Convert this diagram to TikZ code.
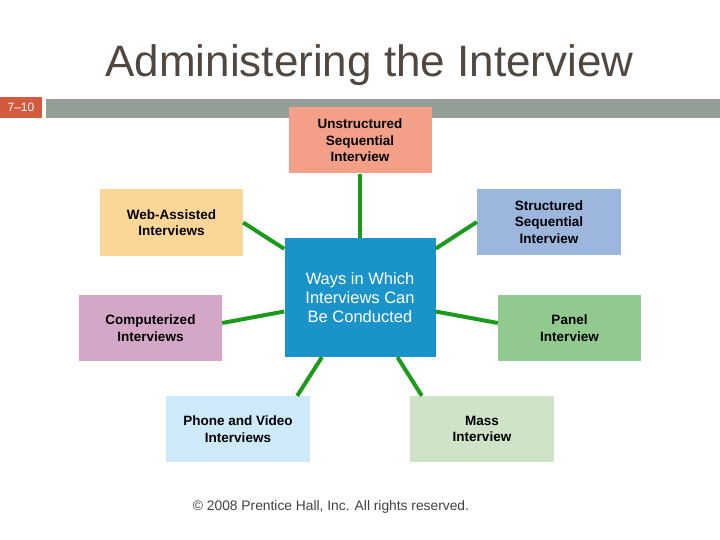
\documentclass[tikz,border=0pt]{standalone}
\usepackage{fontspec}
\setmainfont{Liberation Sans}
\usetikzlibrary{positioning,calc}

\definecolor{titlegray}{RGB}{80,72,64}
\definecolor{bargray}{RGB}{146,158,150}
\definecolor{tagred}{RGB}{211,90,60}
\definecolor{linkgreen}{RGB}{28,154,28}
\definecolor{unstrcol}{RGB}{244,160,136}
\definecolor{structcol}{RGB}{157,182,222}
\definecolor{webcol}{RGB}{250,215,151}
\definecolor{wayscol}{RGB}{26,147,200}
\definecolor{compcol}{RGB}{212,167,199}
\definecolor{panelcol}{RGB}{145,201,142}
\definecolor{phonecol}{RGB}{205,233,250}
\definecolor{masscol}{RGB}{206,227,199}

\begin{document}
\begin{tikzpicture}[x=1pt, y=-1pt,
        box/.style={rectangle, minimum width=143pt, minimum height=66pt, inner sep=0pt, align=center, font=\fontsize{13.5}{16.5}\selectfont\bfseries},
        link/.style={draw=linkgreen, line width=4pt}
    ]
        \useasboundingbox (0,0) rectangle (720,540);

        % Title and header bar
        \node[anchor=base, text=titlegray, font=\fontsize{44}{50}\selectfont] (title) at (369.5, 77) {Administering the Interview};
        \fill[bargray] (46,99) rectangle (720,118);
        \node[rectangle, fill=tagred, minimum width=42pt, minimum height=21pt, inner sep=0pt, text=white, font=\fontsize{12}{14}\selectfont] (tag) at (21, 107.5) {7--10};

        % Centre
        \node[rectangle, fill=wayscol, minimum width=151pt, minimum height=119pt, inner sep=0pt, align=center, text=white, font=\fontsize{16.5}{19}\selectfont] (ways) at (360, 297.5) {Ways in Which\\Interviews Can\\Be Conducted};

        % Surrounding kinds of interview
        \node[box, fill=unstrcol] (unstr) at (360, 140.5) {Unstructured\\Sequential\\Interview};
        \node[box, fill=structcol, minimum width=144pt] (struct) at (549, 222) {Structured\\Sequential\\Interview};
        \node[box, fill=webcol] (web) at (171.5, 222.5) {Web-Assisted\\Interviews};
        \node[box, fill=compcol] (comp) at (150.5, 328) {Computerized\\Interviews};
        \node[box, fill=panelcol] (panel) at (569.5, 328) {Panel\\Interview};
        \node[box, fill=phonecol, minimum width=144pt] (phone) at (238, 429) {Phone and Video\\Interviews};
        \node[box, fill=masscol, minimum width=144pt] (mass) at (482, 429) {Mass\\Interview};

        % Links to the centre
        \draw[link] (unstr) -- (ways);
        \draw[link] (struct.west) -- (ways);
        \draw[link] (web.east) -- (ways);
        \draw[link] ($(comp.east)+(0,-5)$) -- (ways);
        \draw[link] ($(panel.west)+(0,-5)$) -- (ways);
        \draw[link] ($(phone.north east)+(-13,0)$) -- (ways);
        \draw[link] ($(mass.north west)+(12,0)$) -- (ways);

        % Footer
        \node[text=black!75, font=\fontsize{13.8}{16}\selectfont] (rights) at (331, 507) {\textcopyright{} 2008 Prentice Hall, Inc. All rights reserved.};
    \end{tikzpicture}
\end{document}
